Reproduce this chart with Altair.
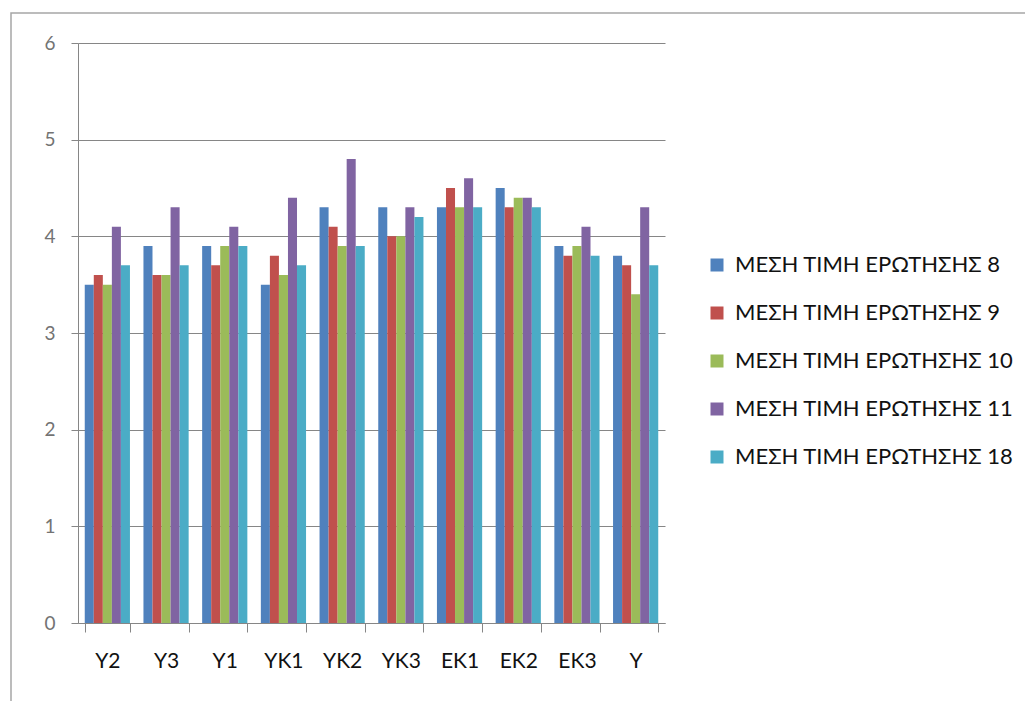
import altair as alt
import pandas as pd

# Survey groups along the x axis
categories = ["Y2", "Y3", "Y1", "YK1", "YK2", "YK3", "EK1", "EK2", "EK3", "Y"]

# Series names (legend order)
series_names = [
    "ΜΕΣΗ ΤΙΜΗ ΕΡΩΤΗΣΗΣ 8",
    "ΜΕΣΗ ΤΙΜΗ ΕΡΩΤΗΣΗΣ 9",
    "ΜΕΣΗ ΤΙΜΗ ΕΡΩΤΗΣΗΣ 10",
    "ΜΕΣΗ ΤΙΜΗ ΕΡΩΤΗΣΗΣ 11",
    "ΜΕΣΗ ΤΙΜΗ ΕΡΩΤΗΣΗΣ 18",
]

# Mean answer per question and group
q8 = [3.5, 3.9, 3.9, 3.5, 4.3, 4.3, 4.3, 4.5, 3.9, 3.8]
q9 = [3.6, 3.6, 3.7, 3.8, 4.1, 4.0, 4.5, 4.3, 3.8, 3.7]
q10 = [3.5, 3.6, 3.9, 3.6, 3.9, 4.0, 4.3, 4.4, 3.9, 3.4]
q11 = [4.1, 4.3, 4.1, 4.4, 4.8, 4.3, 4.6, 4.4, 4.1, 4.3]
q18 = [3.7, 3.7, 3.9, 3.7, 3.9, 4.2, 4.3, 4.3, 3.8, 3.7]

y_ticks = [0, 1, 2, 3, 4, 5, 6]

colors = ["#4F81BD", "#C0504D", "#9BBB59", "#8064A2", "#4BACC6"]

rows = []
for name, vals in zip(series_names, [q8, q9, q10, q11, q18]):
    for cat, v in zip(categories, vals):
        rows.append({"group": cat, "series": name, "value": v})
df = pd.DataFrame(rows)

FONT = "Lato"

bars = alt.Chart(df).mark_bar().encode(
    x=alt.X(
        "group:N",
        sort=categories,
        scale=alt.Scale(paddingInner=0.23, paddingOuter=0.115),
        axis=alt.Axis(
            title=None,
            labelAngle=0,
            tickBand="extent",
            tickSize=9,
            tickColor="#868686",
            domainColor="#868686",
            labelFont=FONT,
            labelFontSize=21,
            labelColor="#111111",
            labelPadding=18,
            grid=False,
        ),
    ),
    xOffset=alt.XOffset(
        "series:N",
        sort=series_names,
        scale=alt.Scale(paddingInner=0, paddingOuter=0),
    ),
    y=alt.Y(
        "value:Q",
        scale=alt.Scale(domain=[0, 6], nice=False),
        axis=alt.Axis(
            title=None,
            values=y_ticks,
            tickSize=7,
            tickColor="#868686",
            domainColor="#868686",
            grid=True,
            gridColor="#868686",
            gridWidth=1,
            labelFont=FONT,
            labelFontSize=19,
            labelColor="#737373",
            labelPadding=16,
        ),
    ),
    color=alt.Color(
        "series:N",
        sort=series_names,
        scale=alt.Scale(domain=series_names, range=colors),
        legend=alt.Legend(
            title=None,
            orient="none",
            legendX=628,
            legendY=211,
            symbolType="square",
            symbolSize=169,
            symbolStrokeWidth=0,
            labelFont=FONT,
            labelFontSize=22,
            labelColor="#111111",
            labelOffset=7,
            labelLimit=400,
            rowPadding=26,
        ),
    ),
)

# Outer frame around the whole chart area
frame = alt.Chart(alt.Data(values=[{"k": 1}])).mark_rect(
    fillOpacity=0, stroke="#a6a6a6", strokeWidth=1.5
).encode(
    x=alt.value(-67),
    x2=alt.value(1000),
    y=alt.value(-30),
    y2=alt.value(700),
)

chart = alt.layer(bars, frame).properties(
    width=587,
    height=580,
    padding={"left": 78, "top": 43, "right": 360, "bottom": 78},
    autosize=alt.AutoSizeParams(type="none"),
    background="white",
).configure_view(stroke=None)

chart.save("out.html", embed_options={"renderer": "svg", "actions": False})
